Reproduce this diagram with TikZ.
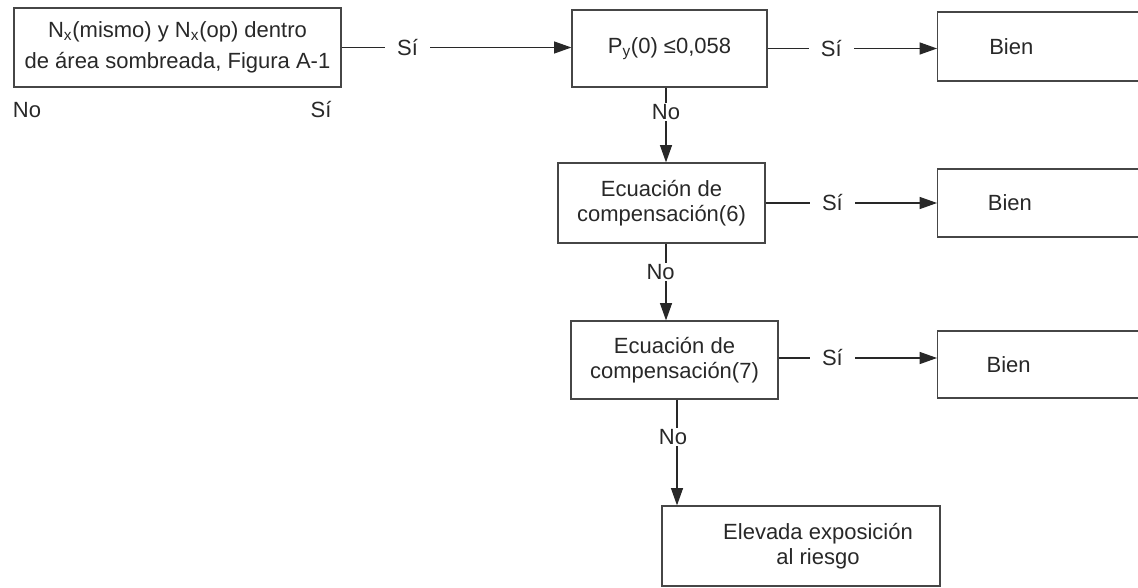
\documentclass[tikz,border=0pt]{standalone}
\usepackage{fontspec}
\setmainfont{Liberation Sans}
\usetikzlibrary{arrows.meta, positioning}
\definecolor{ink}{RGB}{40,40,40}
\definecolor{rim}{RGB}{70,70,70}

\tikzset{
  box/.style={draw=rim, line width=0.9pt, text=ink, align=center, inner sep=0pt,
    font=\fontsize{16.5}{18.5}\selectfont},
  okbox/.style={box, anchor=west, minimum width=169.5pt},
  flow/.style={draw=ink, line width=0.9pt, -{Triangle[length=13pt,width=9pt]}},
  tag/.style={fill=white, text=ink, inner xsep=9pt, inner ysep=1pt,
    font=\fontsize{16.5}{18.5}\selectfont},
  note/.style={text=ink, inner sep=0pt, font=\fontsize{16.5}{18.5}\selectfont},
}

\begin{document}
\begin{tikzpicture}[x=0.75pt,y=0.75pt,yscale=-1,xscale=1]
\path[use as bounding box] (0,0) rectangle (1138,588);
\clip (0,0) rectangle (1138,588);

% Boxes
\node[box, minimum width=245.25pt, minimum height=59.25pt] (A) at (177.5,47.5)
  {N\textsubscript{x}(mismo) y N\textsubscript{x}(op) dentro\\[5pt]de área sombreada, Figura A-1};
\node[box, minimum width=146.25pt, minimum height=57.75pt] (B) at (669.5,48.5)
  {P\textsubscript{y}(0) ≤0,058};
\node[box, minimum width=155.25pt, minimum height=60pt] (C) at (661.5,203)
  {Ecuación de\\compensación(6)};
\node[box, minimum width=155.25pt, minimum height=58.5pt] (D) at (674.5,360)
  {Ecuación de\\compensación(7)};
\node[box, minimum width=208.5pt, minimum height=60pt,
  label={[note, align=center, xshift=12.75pt]center:Elevada exposición\\al riesgo}] (E) at (801,546) {};

% Bien boxes (cut by the right edge)
\node[okbox, minimum height=51.75pt, label={[note, xshift=-29.5pt]center:Bien}] (bien1) at (937,46.5) {};
\node[okbox, minimum height=51pt, label={[note, xshift=-30.5pt]center:Bien}] (bien2) at (937,203) {};
\node[okbox, minimum height=50.25pt, label={[note, xshift=-31.5pt]center:Bien}] (bien3) at (937,364.5) {};

% Text Node
\node[note] (no0) at (27,110) {No};
\node[note] (si0) at (321,110) {Sí};

\coordinate (spine) at (666,0);
\coordinate (spine2) at (677,0);

% Connectors
\draw[flow] (A.east) -- node[tag, pos=0.287] {Sí} (A.east -| B.west);
\draw[flow] (B.east) -- node[tag, pos=0.376] {Sí} (B.east -| bien1.west);
\draw[flow] (C.east) -- node[tag, pos=0.39] {Sí} (C.east -| bien2.west);
\draw[flow] ([yshift=-1.5pt]D.east) -- node[tag, pos=0.34] {Sí} ([yshift=-1.5pt]D.east -| bien3.west);

\draw[flow] (B.south -| spine) -- node[tag, pos=0.33, inner xsep=0pt] {No} (C.north -| spine);
\draw[flow] (C.south -| spine) -- node[tag, pos=0.37, inner xsep=0pt, xshift=-4pt] {No} (D.north -| spine);
\draw[flow] (D.south -| spine2) -- node[tag, pos=0.355, inner xsep=0pt, xshift=-3pt] {No} (E.north -| spine2);

\end{tikzpicture}
\end{document}
